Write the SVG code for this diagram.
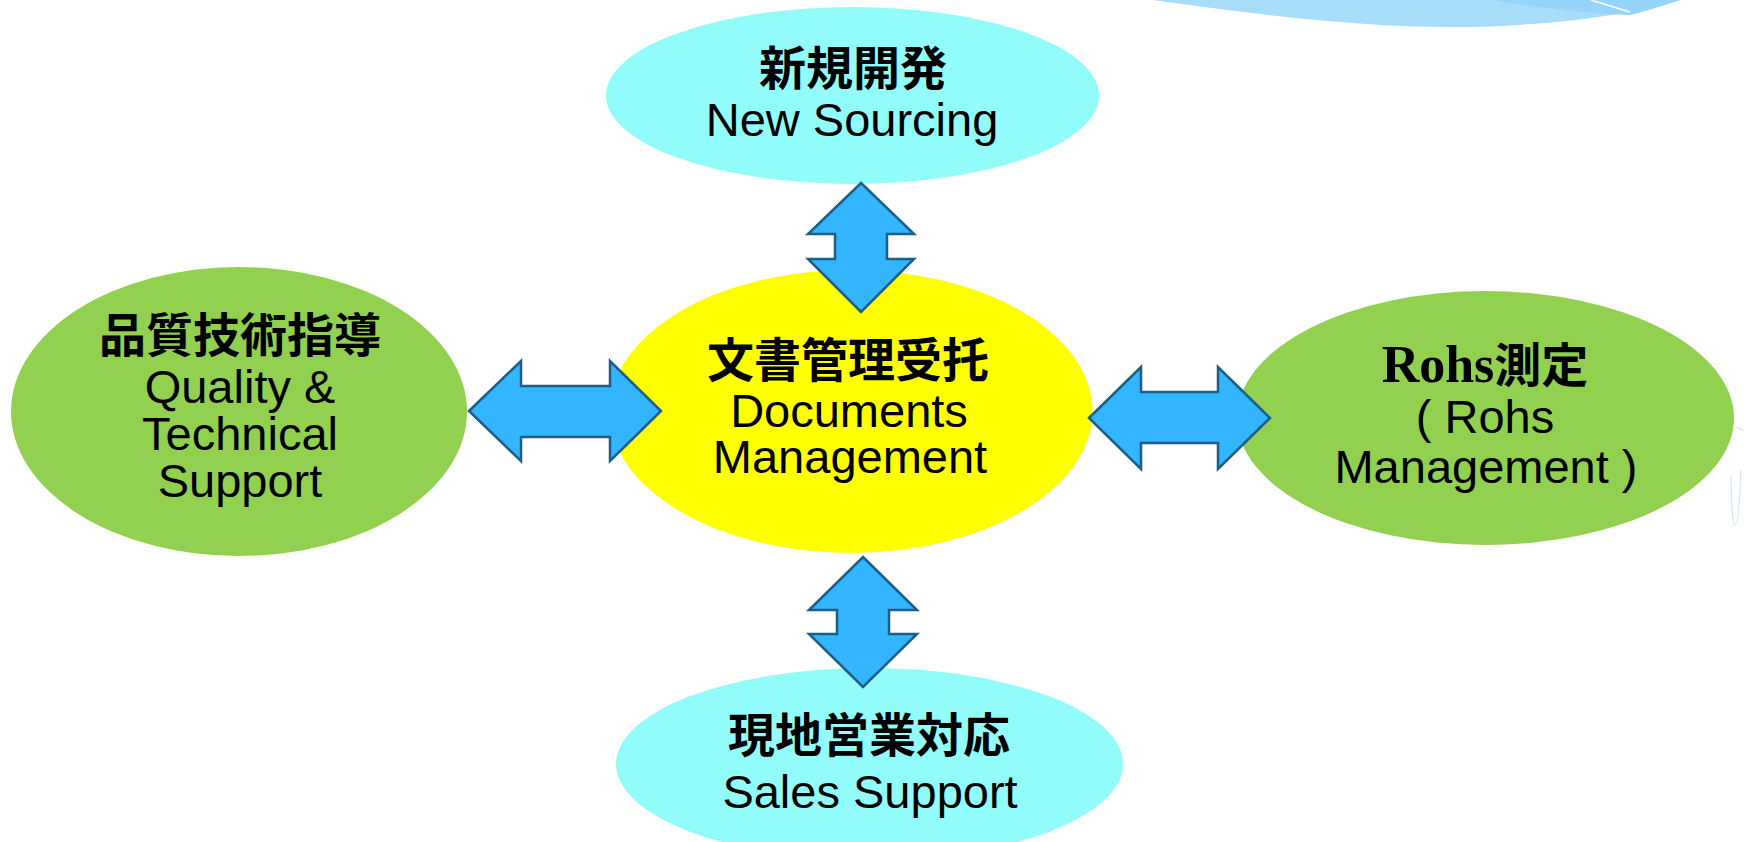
<svg xmlns="http://www.w3.org/2000/svg" width="1744" height="842" viewBox="0 0 1744 842">
<style>
.cyan{fill:#92FCFA}
.yel{fill:#FFFF00}
.grn{fill:#92D050}
.arr{fill:#33B5FF;stroke:#1B5E86;stroke-width:2.5;stroke-linejoin:miter}
.cjk{font-family:"Liberation Serif","Noto Sans CJK JP",serif;font-weight:bold;font-size:47px;fill:#000;text-anchor:middle}
.en{font-family:"Liberation Sans",Arial,sans-serif;font-size:47px;fill:#000;text-anchor:middle}
</style>
<rect width="1744" height="842" fill="#FFFFFF"/>
<g id="decoration">
<path d="M1153,0 C1250,14 1360,27 1450,27 C1530,27 1620,18 1680,0 Z" fill="#A8DDFA"/>
<path d="M1494,0 C1540,8 1590,14 1630,15 C1650,10 1665,5 1680,0 Z" fill="#96D5F8"/>
<path d="M1591,0 L1630,12" stroke="#FFFFFF" stroke-width="1.5" fill="none"/>
<path d="M1737,427 L1744,431" stroke="#CFE6FA" stroke-width="1.2" fill="none"/>
<path d="M1731,476 C1731,505 1733,525 1735,525 C1738,525 1740,495 1741,470" stroke="#CFE6FA" stroke-width="1.2" fill="none"/>
</g>
<g id="node-new-sourcing">
<ellipse class="cyan" cx="852.5" cy="95.5" rx="246.5" ry="88.5"/>
<text class="cjk" x="853" y="85">新規開発</text>
<text class="en" x="852" y="136">New Sourcing</text>
</g>
<g id="node-documents">
<ellipse class="yel" cx="851" cy="411.5" rx="241.5" ry="141.5"/>
<text class="cjk" x="848" y="377">文書管理受托</text>
<text class="en" x="849" y="427">Documents</text>
<text class="en" x="850" y="473">Management</text>
</g>
<g id="node-quality">
<ellipse class="grn" cx="239" cy="411.5" rx="228" ry="144.5"/>
<text class="cjk" x="240" y="352">品質技術指導</text>
<text class="en" x="240" y="403">Quality &amp;</text>
<text class="en" x="240" y="450">Technical</text>
<text class="en" x="240" y="497">Support</text>
</g>
<g id="node-rohs">
<ellipse class="grn" cx="1485.5" cy="418" rx="248.5" ry="127"/>
<text class="cjk" x="1485" y="382"><tspan font-size="52px">Rohs</tspan>測定</text>
<text class="en" x="1485" y="433">( Rohs</text>
<text class="en" x="1486" y="483">Management )</text>
</g>
<g id="node-sales">
<ellipse class="cyan" cx="869.5" cy="764" rx="253.5" ry="96"/>
<text class="cjk" x="869" y="752">現地営業対応</text>
<text class="en" x="870" y="808">Sales Support</text>
</g>
<g id="connectors">
<path class="arr" d="M861,183 L914,234 L887,234 L887,259 L914,259 L861,312 L808,259 L835,259 L835,234 L808,234 Z"/>
<path class="arr" d="M863,557 L917,610 L889,610 L889,634 L917,634 L863,687 L809,634 L837,634 L837,610 L809,610 Z"/>
<path class="arr" d="M469,411 L521,361 L521,386 L610,386 L610,361 L661,411 L610,461 L610,437 L521,437 L521,461 Z"/>
<path class="arr" d="M1089,418 L1141,367 L1141,392 L1218,392 L1218,367 L1270,418 L1218,469 L1218,443 L1141,443 L1141,469 Z"/>
</g>
</svg>
